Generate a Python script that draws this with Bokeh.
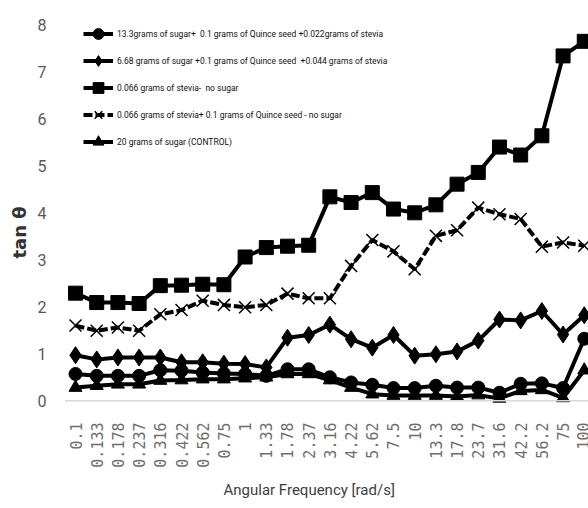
import math
from bokeh.plotting import figure
from bokeh.models import (Range1d, FixedTicker, Span, Title, Legend, LegendItem,
                          ColumnDataSource)
from bokeh.embed import file_html
from bokeh.resources import INLINE

categories = ["0.1", "0.133", "0.178", "0.237", "0.316", "0.422", "0.562", "0.75", "1",
              "1.33", "1.78", "2.37", "3.16", "4.22", "5.62", "7.5", "10", "13.3", "17.8",
              "23.7", "31.6", "42.2", "56.2", "75", "100"]

sugar133 = [0.57, 0.53, 0.53, 0.53, 0.65, 0.64, 0.60, 0.58, 0.57, 0.53, 0.67, 0.67, 0.50,
            0.39, 0.34, 0.27, 0.27, 0.32, 0.28, 0.28, 0.17, 0.36, 0.37, 0.27, 1.32]
sugar668 = [0.97, 0.88, 0.92, 0.92, 0.92, 0.82, 0.82, 0.79, 0.78, 0.71, 1.34, 1.40, 1.62,
            1.31, 1.13, 1.40, 0.96, 0.99, 1.05, 1.28, 1.73, 1.71, 1.91, 1.41, 1.82]
stevia_only = [2.29, 2.09, 2.09, 2.07, 2.45, 2.46, 2.48, 2.47, 3.06, 3.26, 3.29, 3.31, 4.34,
               4.22, 4.43, 4.08, 4.00, 4.17, 4.61, 4.86, 5.40, 5.23, 5.64, 7.34, 7.65]
stevia_quince = [1.60, 1.49, 1.56, 1.49, 1.84, 1.93, 2.13, 2.04, 1.99, 2.04, 2.28, 2.18, 2.18,
                 2.87, 3.42, 3.18, 2.80, 3.51, 3.63, 4.11, 3.97, 3.87, 3.28, 3.37, 3.30]
control = [0.28, 0.32, 0.35, 0.35, 0.43, 0.44, 0.46, 0.46, 0.48, 0.50, 0.57, 0.57, 0.44,
           0.28, 0.14, 0.11, 0.11, 0.11, 0.09, 0.12, 0.05, 0.21, 0.23, 0.06, 0.65]

labels = ["13.3grams of sugar+  0.1 grams of Quince seed +0.022grams of stevia",
          "6.68 grams of sugar +0.1 grams of Quince seed  +0.044 grams of stevia",
          "0.066 grams of stevia-  no sugar",
          "0.066 grams of stevia+ 0.1 grams of Quince seed - no sugar",
          "20 grams of sugar (CONTROL)"]
yticks = [0, 1, 2, 3, 4, 5, 6, 7, 8]

idx = list(range(len(categories)))
SANS = "Roboto"

p = figure(width=588, height=508, output_backend="svg", toolbar_location=None,
           x_range=Range1d(-0.52, 24.2), y_range=Range1d(-0.25, 8.2),
           min_border_left=64, min_border_right=0, min_border_top=15, min_border_bottom=96)
p.outline_line_color = None
p.grid.visible = False

p.xaxis.ticker = FixedTicker(ticks=idx)
p.xaxis.major_label_overrides = {i: c for i, c in enumerate(categories)}
p.xaxis.major_label_orientation = math.pi / 2
p.xaxis.axis_line_color = None
p.xaxis.major_tick_line_color = None
p.xaxis.minor_tick_line_color = None
p.xaxis.major_label_standoff = 4
p.xaxis.major_label_text_font = "DejaVu Sans Mono"
p.xaxis.major_label_text_font_size = "15px"
p.xaxis.major_label_text_color = "#6e6e6e"

p.yaxis.ticker = FixedTicker(ticks=yticks)
p.yaxis.axis_line_color = None
p.yaxis.major_tick_line_color = None
p.yaxis.minor_tick_line_color = None
p.yaxis.major_label_standoff = 12
p.yaxis.major_label_text_font = SANS
p.yaxis.major_label_text_font_size = "16px"
p.yaxis.major_label_text_color = "#595959"

p.add_layout(Span(location=0, dimension="width", line_color="#d9d9d9", line_width=1.5))

src = ColumnDataSource(dict(x=idx, a=sugar133, b=sugar668, c=stevia_only,
                            d=stevia_quince, e=control))

items = []
specs = [("a", "circle", 13, None), ("b", "diamond", 17, None), ("c", "square", 14, None),
         ("d", "x", 17, "9 3"), ("e", "triangle", 13, None)]
for (col, marker, size, dash), lab in zip(specs, labels):
    lr = p.line("x", col, source=src, line_color="black", line_width=4,
                line_dash=dash if dash else "solid")
    if marker == "x":
        mr = p.scatter("x", col, source=src, marker="x", size=size, line_color="black",
                       line_width=1.5)
    else:
        mr = p.scatter("x", col, source=src, marker=marker, size=size, fill_color="black",
                       line_color="black")
    items.append(LegendItem(label=lab, renderers=[lr, mr]))

legend = Legend(items=items, location=(19, 257), padding=0, margin=0, spacing=0,
                glyph_width=30, glyph_height=27, label_height=20, label_standoff=4,
                label_text_font=SANS, label_text_font_size="8.5px",
                label_text_color="#111111", background_fill_alpha=0,
                border_line_alpha=0)
p.add_layout(legend, "center")

p.add_layout(Title(text="tan θ", align="left", offset=154, standoff=10,
                   text_font="DejaVu Sans", text_font_size="18px",
                   text_font_style="bold", text_color="#333333"), "left")
p.add_layout(Title(text="Angular Frequency [rad/s]", align="left", offset=159, standoff=17,
                   text_font=SANS, text_font_size="15px", text_font_style="normal",
                   text_color="#404040"), "below")

open("out.html", "w").write(file_html(p, INLINE))
